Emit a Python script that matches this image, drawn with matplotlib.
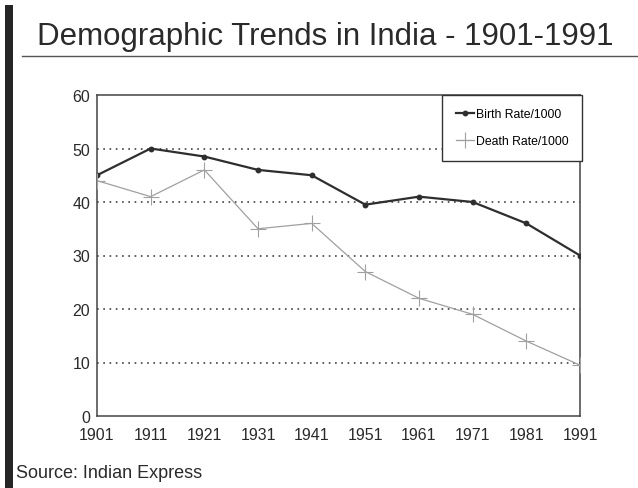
import matplotlib

matplotlib.use("Agg")
import matplotlib.pyplot as plt
from matplotlib.lines import Line2D
from matplotlib.patches import Rectangle

plt.rcParams["font.family"] = ["Liberation Sans", "DejaVu Sans"]

years = [1901, 1911, 1921, 1931, 1941, 1951, 1961, 1971, 1981, 1991]
birth_rate = [45, 50, 48.5, 46, 45, 39.5, 41, 40, 36, 30]
death_rate = [44, 41, 46, 35, 36, 27, 22, 19, 14, 9.5]
y_ticks = [0, 10, 20, 30, 40, 50, 60]

fig = plt.figure(figsize=(6.38, 4.89), dpi=100)
fig.patch.set_facecolor("white")

# dark bar down the left edge and rule under the title
fig.add_artist(Rectangle((5 / 638, 0), 8 / 638, 1 - 6 / 489,
                         transform=fig.transFigure, color="#262626", lw=0))
fig.add_artist(Line2D([22 / 638, 1.0], [1 - 57 / 489] * 2,
                      transform=fig.transFigure, color="#555555", lw=1.0))

fig.text(37 / 638, 1 - 37 / 489, "Demographic Trends in India - 1901-1991",
         fontsize=22.5, color="#2a2a2a", va="center", ha="left")
fig.text(16 / 638, 1 - 474 / 489, "Source: Indian Express",
         fontsize=13, color="#2a2a2a", va="center", ha="left")

ax = fig.add_axes([97 / 638, 1 - 417 / 489, 483 / 638, 321 / 489])

ax.plot(years, birth_rate, color="#2e2e2e", lw=1.6, marker="o", ms=3.2,
        label="Birth Rate/1000", zorder=3)
ax.plot(years, death_rate, color="#a0a0a0", lw=0.9, marker="+", ms=11,
        mew=0.8, label="Death Rate/1000", zorder=3)

ax.set_xlim(years[0], years[-1])
ax.set_ylim(0, 60)
ax.set_xticks(years)
ax.set_yticks(y_ticks)
ax.tick_params(length=0, labelsize=11.5, labelcolor="#2a2a2a")
ax.tick_params(axis="x", pad=8)
ax.tick_params(axis="y", pad=5)
for t in y_ticks[1:-1]:
    ax.axhline(t, color="#333333", lw=1.1, linestyle=(0, (1.1, 3.0)), zorder=1)
for s in ax.spines.values():
    s.set_color("#444444")
    s.set_linewidth(1.1)

leg = ax.legend(loc="upper right", bbox_to_anchor=(1.005, 1.0), fontsize=8.8,
                frameon=True, fancybox=False, framealpha=1, edgecolor="#333333",
                handlelength=1.5, handletextpad=0.2, borderpad=1.1,
                labelspacing=1.2, borderaxespad=0)
leg.get_frame().set_linewidth(1.0)

fig.savefig("out.png", dpi=100)
